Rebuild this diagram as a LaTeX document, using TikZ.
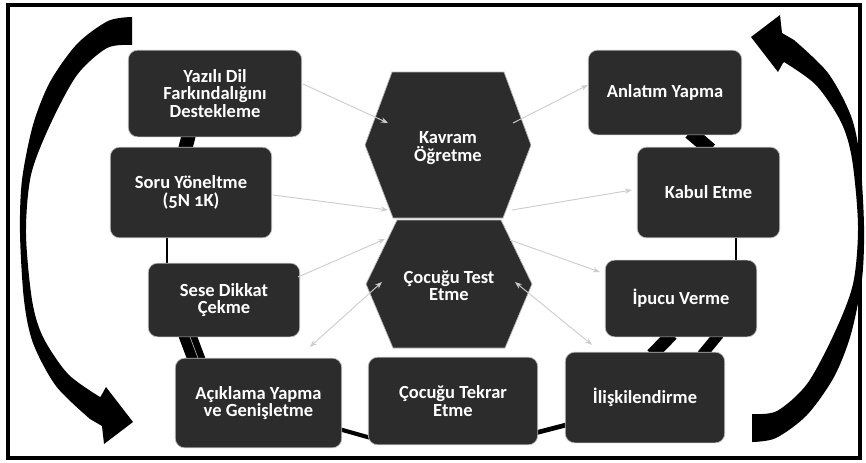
\documentclass[tikz,border=0pt]{standalone}
\usepackage{fontspec}
\setmainfont[Numbers=OldStyle]{Carlito}
\usepackage{tikz}
\usetikzlibrary{arrows.meta,calc,backgrounds}
\definecolor{boxgray}{RGB}{44,44,44}
\definecolor{linkgray}{RGB}{205,205,205}

\begin{document}
\begin{tikzpicture}[
x=0.03cm, y=-0.03cm,
box node/.style={rectangle,
                 rounded corners=8pt,
                 fill=boxgray,
                 draw=gray!55,
                 line width=0.6pt,
                 text=white,
                 align=center,
                 inner sep=0pt,
                 font=\bfseries\fontsize{15.8}{14.9}\selectfont},
hex text/.style={text=white,
                 align=center,
                 font=\bfseries\fontsize{15.8}{14.9}\selectfont},
hex/.style={fill=boxgray, draw=gray!55, line width=0.6pt},
band/.style={black, line width=12pt},
thin band/.style={black, line width=1.3pt},
link/.style={linkgray, line width=0.8pt, -{Stealth[length=6pt,width=4.5pt]}},
both link/.style={link, {Stealth[length=6pt,width=4.5pt]}-{Stealth[length=6pt,width=4.5pt]}}]
\useasboundingbox (0,0) rectangle (866,462);

%big turning arrows (the right one is the left one turned round)
\foreach \ang in {0,180}
  \fill[black, rotate around={\ang:(442,229.5)}]
    plot[smooth] coordinates {(132,17) (108,21) (77,44) (50,82) (33,125) (22,180) (20,233) (24,300) (33,343) (56,386) (90,419)}
    -- (102,426) -- (104,444) -- (133,422) -- (106,387) -- (101,396)
    -- plot[smooth] coordinates {(100,397) (68,374) (43,337) (32,300) (26,233) (31,175) (50,125) (77,75) (107,48) (132,45)}
    -- cycle;

%hexagons
  \filldraw[hex, shift={(448,145)}] (-83,0) -- (-56,-73) -- (56,-73) -- (83,0) -- (55,73) -- (-55,73) -- cycle;
  \node[hex text] (kavram) at (448,148) {Kavram\\Öğretme};
  \filldraw[hex, shift={(449,284)}] (-83,0) -- (-52,-64) -- (52,-64) -- (83,0) -- (56,64) -- (-56,64) -- cycle;
  \node[hex text] (test) at (449,286) {Çocuğu Test\\Etme};

%left column
  \node[box node, minimum width=148pt, minimum height=74pt] (yazili) at (215,93.5) {Yazılı Dil\\Farkındalığını\\Destekleme};
  \node[box node, minimum width=137.8pt, minimum height=77.4pt] (soru) at (191,192.5) {Soru Yöneltme\\(5N 1K)};
  \node[box node, minimum width=129.3pt, minimum height=62.9pt] (sese) at (224,300) {Sese Dikkat\\Çekme};
%bottom row
  \node[box node, minimum width=142pt, minimum height=76.5pt] (aciklama) at (258.5,403) {Açıklama Yapma\\ve Genişletme};
  \node[box node, minimum width=144.6pt, minimum height=74.8pt] (tekrar) at (453,401) {Çocuğu Tekrar\\Etme};
  \node[box node, minimum width=136.1pt, minimum height=77.4pt] (iliski) at (645,397.5) {İlişkilendirme};
%right column
  \node[box node, minimum width=129.3pt, minimum height=65.5pt] (ipucu) at (681,298.5) {İpucu Verme};
  \node[box node, minimum width=121.6pt, minimum height=77.4pt] (kabul) at (708.5,192.5) {Kabul Etme};
  \node[box node, minimum width=131pt, minimum height=72.3pt] (anlatim) at (665,92.5) {Anlatım Yapma};

%links behind the boxes
\begin{pgfonlayer}{background}
  \draw[band] ($(yazili.south)+(-26,-3)$) -- ($(soru.north)+(-6,3)$);
  \draw[band] ($(anlatim.south)+(25,-3)$) -- ($(kabul.north)+(2,3)$);
  \draw[thin band] ($(soru.south)+(-24,-2)$) -- ($(sese.north)+(-57,2)$);
  \draw[thin band] ($(kabul.south)+(27.5,-2)$) -- ($(ipucu.north)+(55,2)$);
  \draw[black, line width=15pt] ($(sese.south)+(-37,-3)$) -- ($(aciklama.north)+(-61.5,3)$);
  \draw[gray!70, line width=0.6pt] ($(sese.south)+(-35,-3)$) -- ($(aciklama.north)+(-59.5,3)$);
  \draw[black, line width=11pt] ($(ipucu.south)+(-9,-3)$) -- ($(iliski.north)+(7,3)$);
  \draw[black, line width=9pt] ($(ipucu.south)+(38,-3)$) -- ($(iliski.north)+(57,3)$);
  \draw[black, line width=3.5pt] ($(aciklama.east)+(-3,26)$) -- ($(tekrar.west)+(3,37)$);
  \draw[black, line width=4pt] ($(tekrar.east)+(-3,32)$) -- ($(iliski.west)+(3,27)$);
\end{pgfonlayer}

%thin arrows
  \draw[link] ($(yazili.east)+(1,-9.5)$) -- ($(kavram)+(-60,-25)$);
  \draw[link] ($(soru.east)+(1,2.5)$) -- ($(kavram)+(-60,62)$);
  \draw[link] ($(kavram)+(65,-25)$) -- ($(anlatim.west)+(0,-7.5)$);
  \draw[link] ($(kavram)+(64,62)$) -- ($(kabul.west)+(-5,-2.5)$);
  \draw[link] ($(test)+(61,-46)$) -- ($(ipucu.west)+(-5,-26.5)$);
  \draw[both link] ($(test)+(66,-4)$) -- ($(iliski.north)+(-53,-7)$);
  \draw[link] ($(sese.east)+(-2,-23)$) -- ($(test)+(-64,-47)$);
  \draw[both link] ($(test)+(-67,-4)$) -- ($(aciklama.north)+(51.5,-11)$);

%frame
  \draw[line width=2.6pt] (8,5) rectangle (860,458);
\end{tikzpicture}
\end{document}
